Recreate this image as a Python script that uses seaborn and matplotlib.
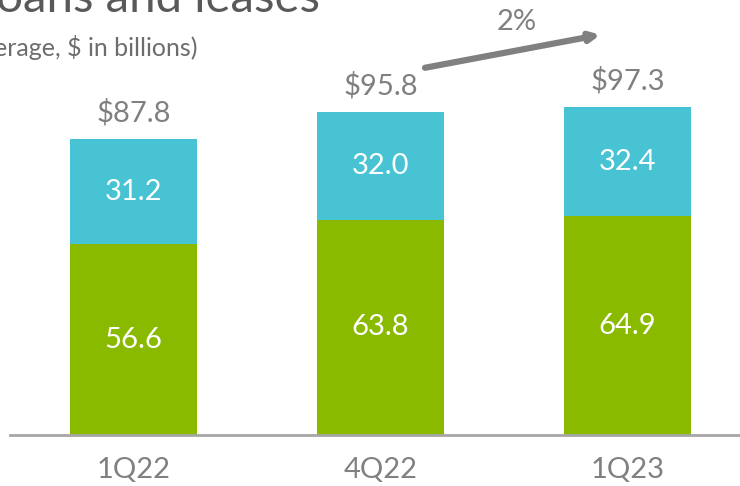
import matplotlib
matplotlib.use("Agg")
import matplotlib.pyplot as plt
import seaborn as sns
import pandas as pd

quarters = ["1Q22", "4Q22", "1Q23"]
green_vals = [56.6, 63.8, 64.9]
cyan_vals = [31.2, 32.0, 32.4]
totals = [87.8, 95.8, 97.3]
total_labels = ["$87.8", "$95.8", "$97.3"]
growth_label = "2%"
title_text = "Loans and leases"
subtitle_text = "(average, $ in billions)"

sns.set_theme(style="white")
plt.rcParams["font.family"] = ["Lato", "DejaVu Sans"]

GREEN = "#8aba00"
CYAN = "#47c3d3"
GRAY = "#808080"

df = pd.DataFrame({"quarter": quarters, "green": green_vals, "cyan": cyan_vals,
                   "total": [g + c for g, c in zip(green_vals, cyan_vals)]})

fig = plt.figure(figsize=(7.4, 4.86), dpi=100)
ax = fig.add_axes([10 / 740, 51 / 486, 730 / 740, 435 / 486])

sns.barplot(data=df, x="quarter", y="total", color=CYAN, width=0.514,
            saturation=1, ax=ax, edgecolor="none")
sns.barplot(data=df, x="quarter", y="green", color=GREEN, width=0.514,
            saturation=1, ax=ax, edgecolor="none")

ax.set_xlim(-0.5, 2.455)
ax.set_ylim(0, 129)
ax.set_xlabel("")
ax.set_ylabel("")
ax.set_yticks([])
for s in ["top", "right", "left"]:
    ax.spines[s].set_visible(False)
ax.spines["bottom"].set_color("#a6a6a6")
ax.spines["bottom"].set_linewidth(2)
ax.tick_params(axis="x", length=0, pad=16, labelsize=21, labelcolor=GRAY)

for i in range(len(quarters)):
    g = green_vals[i]
    c = cyan_vals[i]
    t = g + c
    ax.text(i, g / 2, f"{g:.1f}", ha="center", va="center", color="white", fontsize=21)
    ax.text(i, g + c / 2, f"{c:.1f}", ha="center", va="center", color="white", fontsize=21)
    ax.text(i, t + 7.8, total_labels[i], ha="center", va="center", color=GRAY, fontsize=21)

# growth arrow (4Q22 -> 1Q23)
ax.annotate("", xy=(1.89, 118.7), xytext=(1.18, 108.9),
            arrowprops=dict(arrowstyle="-|>,head_length=0.45,head_width=0.22",
                            color=GRAY, lw=4.5, shrinkA=0, shrinkB=0))
ax.text(1.553, 122.5, growth_label, ha="center", va="center",
        color=GRAY, fontsize=21)

fig.text(-28 / 740, 1 - 12 / 486, title_text, ha="left", va="baseline",
         fontsize=34, color="#595959")
fig.text(-38 / 740, 1 - 47 / 486, subtitle_text, ha="left", va="center",
         fontsize=18, color="#6d6d6d")

fig.savefig("out.png", dpi=100)
